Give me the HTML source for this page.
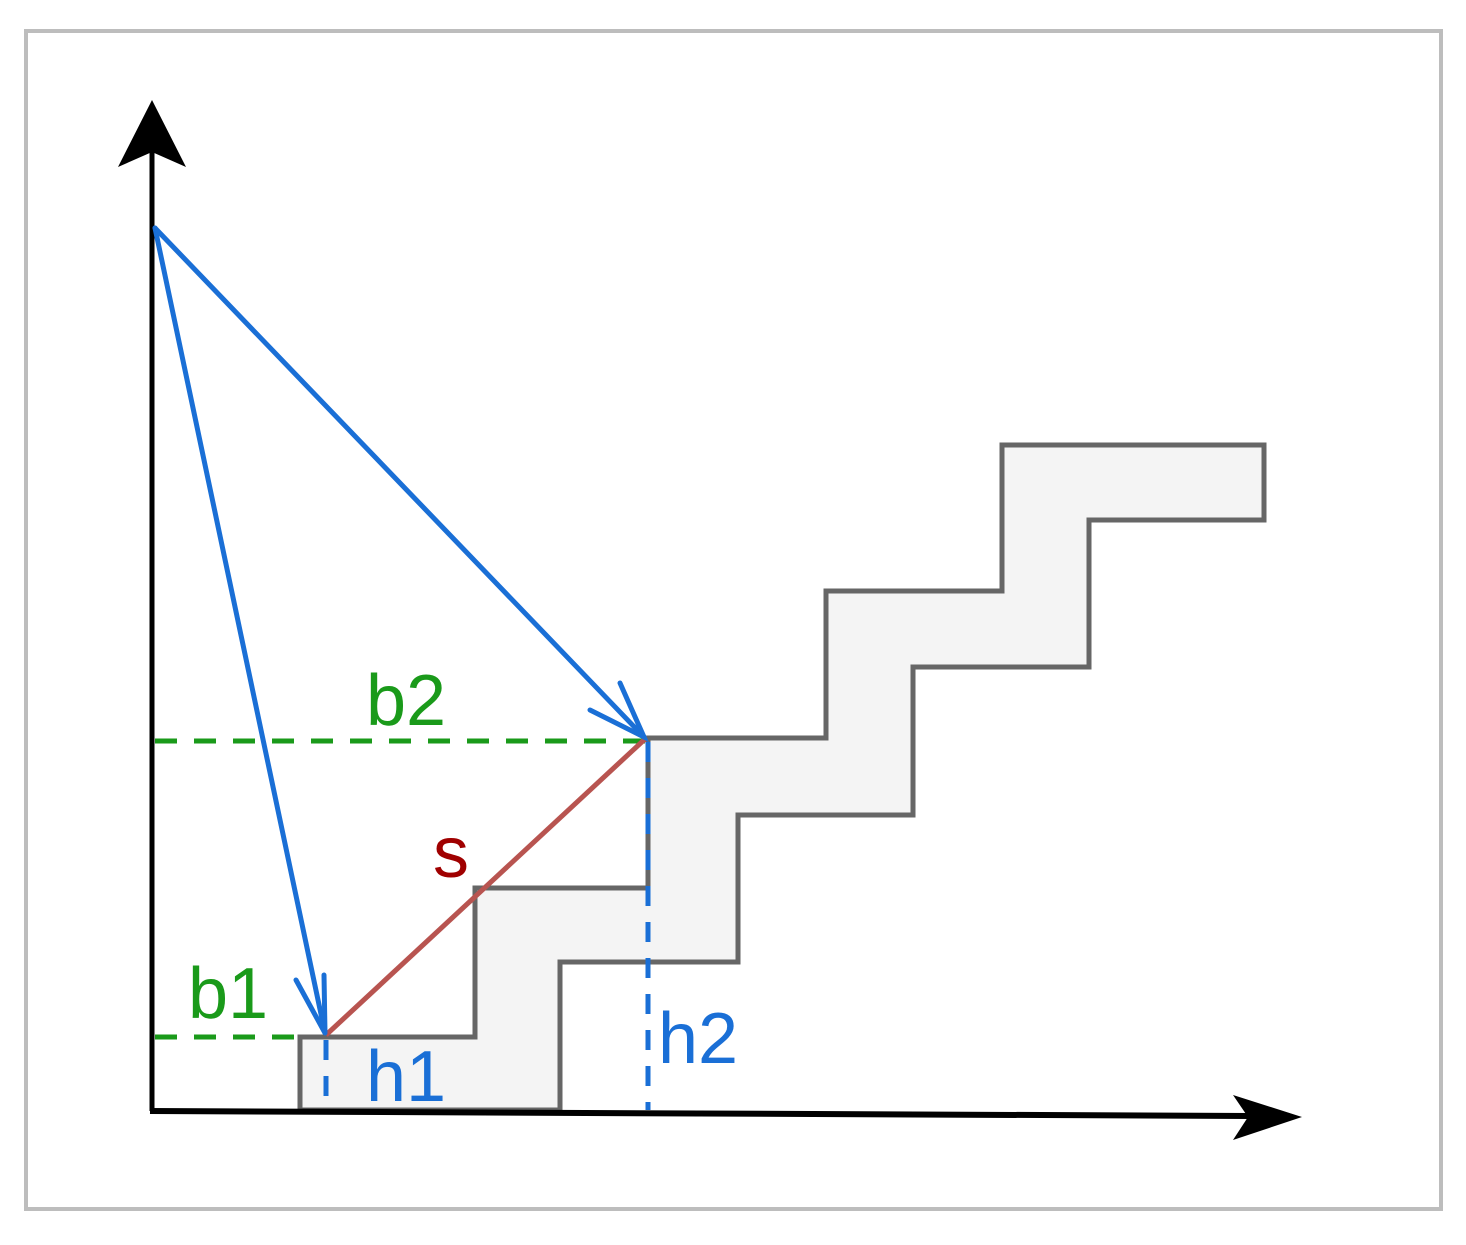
<!DOCTYPE html>
<html><head><meta charset="utf-8"><style>html,body{margin:0;padding:0;background:#fff}</style></head>
<body>
<svg width="1466" height="1240" viewBox="0 0 1466 1240" xmlns="http://www.w3.org/2000/svg" font-family="Liberation Sans, sans-serif">
<rect x="26" y="31" width="1415" height="1178" fill="#fff" stroke="#bdbdbd" stroke-width="4"/>
<polygon points="300,1110 300,1037 475,1037 475,888 648,888 648,738 826,738 826,591 1002,591 1002,445 1264,445 1264,520 1089,520 1089,667 913,667 913,815 738,815 738,962 560,962 560,1110" fill="#f4f4f4" stroke="#666" stroke-width="5"/>
<line x1="152" y1="1111" x2="152" y2="150" stroke="#000" stroke-width="5"/>
<polygon points="152,100 118,167 152,152 186,167" fill="#000"/>
<line x1="150" y1="1111" x2="1250" y2="1116" stroke="#000" stroke-width="6"/>
<polygon points="1302,1117 1233,1095 1248,1117 1233,1140" fill="#000"/>
<g stroke="#1a9a1a" stroke-width="5" stroke-dasharray="22,17">
<line x1="155" y1="741" x2="645" y2="741"/>
<line x1="155" y1="1037" x2="300" y2="1037"/>
</g>
<g stroke="#1a6fd6" stroke-width="5" stroke-dasharray="20,16">
<line x1="326" y1="1040" x2="326" y2="1110"/>
<line x1="648" y1="742" x2="648" y2="1110"/>
</g>
<line x1="326" y1="1035" x2="645" y2="739" stroke="#b85450" stroke-width="5"/>
<g stroke="#1a6fd6" stroke-width="5" fill="none" stroke-linecap="round">
<line x1="155" y1="228" x2="325" y2="1033"/>
<line x1="155" y1="228" x2="644" y2="737"/>
<polyline points="296,980 325,1033 324,975"/>
<polyline points="590,710 644,737 620,683"/>
</g>
<g font-size="72">
<text x="366" y="725" fill="#1a9a1a">b2</text>
<text x="188" y="1018" fill="#1a9a1a">b1</text>
<text x="433" y="877" fill="#a00000">s</text>
<text x="366" y="1101" fill="#1a6fd6">h1</text>
<text x="658" y="1063" fill="#1a6fd6">h2</text>
</g>
</svg>
</body></html>
